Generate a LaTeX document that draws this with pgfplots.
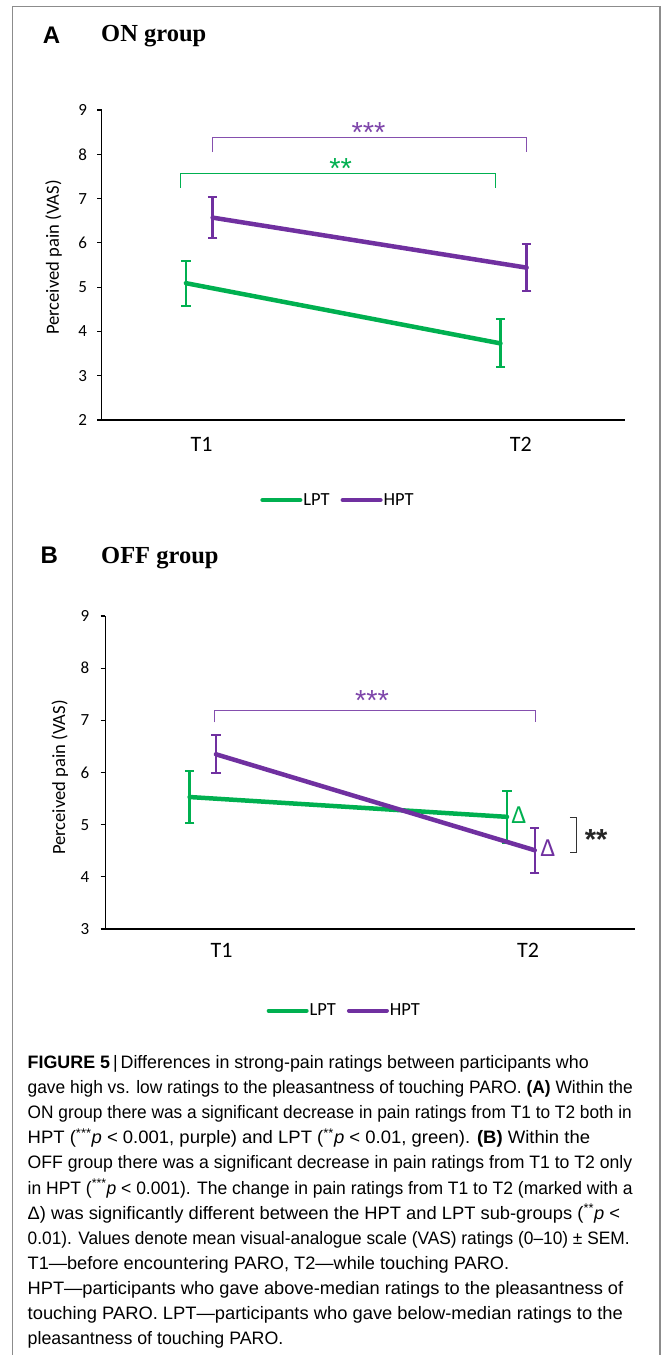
\documentclass[border=0pt]{standalone}
\usepackage{fontspec}
\setmainfont{Liberation Sans}
\newfontfamily\calibri{Carlito}
\newfontfamily\serifbf{Liberation Serif}
\usepackage{graphicx}
\usepackage{pgfplots}
\pgfplotsset{compat=1.18}
\definecolor{lgreen}{HTML}{00B050}
\definecolor{lpurple}{HTML}{7030A0}
\definecolor{framegray}{HTML}{8C8C8C}

\newsavebox\capbox
\newcommand\capline[3]{%
  \node[anchor=base west, inner sep=0pt, outer sep=0pt] at (27.7bp,-#1bp) {%
    \sbox\capbox{\fontsize{18bp}{18bp}\selectfont #3}%
    \pgfmathsetmacro\capsf{#2*1.00375/\the\wd\capbox}%
    \scalebox{\capsf}[1]{\usebox\capbox}};}
\newcommand\stars[1]{\fontsize{29bp}{29bp}\selectfont #1}

\pgfplotsset{
  vasaxis/.style={
    scale only axis, anchor=south west, clip=false,
    xmin=0, xmax=10,
    axis x line=bottom, axis y line=left,
    axis line style={-, line width=1.4bp, black},
    tick align=outside, major tick length=4.5bp,
    xtick style={draw=none},
    ytick style={line width=1.2bp, black},
    /pgf/number format/assume math mode=true,
    yticklabel style={font=\calibri\fontsize{17bp}{17bp}\selectfont, anchor=east, inner sep=0pt},
    xticklabel style={font=\calibri\fontsize{22bp}{22bp}\selectfont, anchor=north, inner sep=0pt},
    ylabel style={font=\calibri\fontsize{18.6bp}{18.6bp}\selectfont, anchor=center},
    legend style={draw=none, fill=none, legend columns=2, anchor=center,
      font=\calibri\fontsize{18.5bp}{18.5bp}\selectfont,
      nodes={inner sep=1bp},
      /tikz/every even column/.append style={column sep=10bp}},
    legend image code/.code={\draw[#1] (0bp,0bp) -- (38bp,0bp);},
  },
  lpt/.style={lgreen, line width=4.5bp, line cap=round, mark=none, forget plot,
    error bars/.cd, y dir=both, y explicit,
    error bar style={line width=2.4bp, line cap=butt},
    error mark options={rotate=90, line width=2bp, mark size=4.7bp, lgreen}},
  hpt/.style={lpurple, line width=4.5bp, line cap=round, mark=none, forget plot,
    error bars/.cd, y dir=both, y explicit,
    error bar style={line width=2.4bp, line cap=butt},
    error mark options={rotate=90, line width=2bp, mark size=4.7bp, lpurple}},
}

\begin{document}
\begin{tikzpicture}
\useasboundingbox (0,0) rectangle (665bp,-1355bp);
\fill[white] (0,0) rectangle (665bp,-1355bp);
\draw[framegray, line width=1.5bp] (12.7bp,-1356bp) -- (12.7bp,-6.7bp) -- (660bp,-6.7bp) -- (660bp,-1356bp);

% Panel titles
\node[anchor=base west, inner sep=0pt, font=\fontsize{24bp}{24bp}\selectfont\bfseries] at (42.6bp,-43.3bp) {A};
\node[anchor=base west, inner sep=0pt, font=\serifbf\fontsize{24.5bp}{24.5bp}\selectfont\bfseries] at (101bp,-41bp) {ON group};
\node[anchor=base west, inner sep=0pt, font=\fontsize{24bp}{24bp}\selectfont\bfseries] at (40.5bp,-563.3bp) {B};
\node[anchor=base west, inner sep=0pt, font=\serifbf\fontsize{24.5bp}{24.5bp}\selectfont\bfseries] at (101bp,-563.3bp) {OFF group};

% ---------------- Panel A ----------------
\begin{axis}[vasaxis, at={(101.7bp,-420bp)}, width=523.3bp, height=310bp,
  ymin=2, ymax=9, ytick={2,3,4,5,6,7,8,9},
  yticklabel style={xshift=-9.9bp},
  xtick={1.91,8.01}, xticklabels={T1,T2}, xticklabel style={yshift=-12.2bp},
  ylabel={Perceived pain (VAS)},
  ylabel style={at={(axis description cs:-0.092,0.524)}},
  legend style={at={(axis description cs:0.4506,-0.258)}}]
\addplot[lpt] coordinates {(1.61,5.09) +- (0,0.51) (7.62,3.73) +- (0,0.54)};
\addplot[hpt] coordinates {(2.12,6.57) +- (0,0.46) (8.12,5.44) +- (0,0.535)};
\addlegendimage{lgreen, line width=4bp, line cap=round}
\addlegendentry{LPT}
\addlegendimage{lpurple, line width=4bp, line cap=round}
\addlegendentry{HPT}
% significance brackets
\draw[lpurple!85, line width=1bp] (axis cs:2.12,8.05) -- (axis cs:2.12,8.374) -- (axis cs:8.12,8.374) -- (axis cs:8.12,8.05);
\node[lpurple!90, anchor=center, inner sep=0pt] at (axis cs:5.10,8.50) {\stars{***}};
\draw[lgreen, line width=1bp] (axis cs:1.51,7.245) -- (axis cs:1.51,7.57) -- (axis cs:7.52,7.57) -- (axis cs:7.52,7.245);
\node[lgreen, anchor=center, inner sep=0pt] at (axis cs:4.567,7.68) {\stars{**}};
\end{axis}

% ---------------- Panel B ----------------
\begin{axis}[vasaxis, at={(105.2bp,-929bp)}, width=529.8bp, height=313bp,
  ymin=3, ymax=9, ytick={3,4,5,6,7,8,9},
  yticklabel style={xshift=-11.2bp},
  xtick={2.197,7.98}, xticklabels={T1,T2}, xticklabel style={yshift=-9.8bp},
  ylabel={Perceived pain (VAS)},
  ylabel style={at={(axis description cs:-0.0855,0.484)}},
  legend style={at={(axis description cs:0.4504,-0.261)}}]
\addplot[lpt] coordinates {(1.593,5.53) +- (0,0.5) (7.584,5.15) +- (0,0.5)};
\addplot[hpt] coordinates {(2.09,6.35) +- (0,0.36) (8.107,4.51) +- (0,0.43)};
\addlegendimage{lgreen, line width=4bp, line cap=round}
\addlegendentry{LPT}
\addlegendimage{lpurple, line width=4bp, line cap=round}
\addlegendentry{HPT}
\draw[lpurple!85, line width=1bp] (axis cs:2.054,6.962) -- (axis cs:2.054,7.198) -- (axis cs:8.124,7.198) -- (axis cs:8.124,6.962);
\node[lpurple!90, anchor=center, inner sep=0pt] at (axis cs:5.036,7.38) {\stars{***}};
\node[lgreen, anchor=center, inner sep=0pt, font=\calibri\fontsize{26bp}{26bp}\selectfont] at (axis cs:7.81,5.185) {Δ};
\node[lpurple, anchor=center, inner sep=0pt, font=\calibri\fontsize{26bp}{26bp}\selectfont] at (axis cs:8.358,4.553) {Δ};
\draw[black!80, line width=1bp] (axis cs:8.77,5.147) -- (axis cs:8.90,5.147) -- (axis cs:8.90,4.47) -- (axis cs:8.77,4.47);
\node[black!85, anchor=center, inner sep=0pt] at (axis cs:9.267,4.72) {\bfseries\stars{**}};
\end{axis}

% ---------------- Caption ----------------
\capline{1068.3}{561.1}{\textbf{FIGURE 5}\,|\,Differences in strong-pain ratings between participants who}
\capline{1093.45}{605}{gave high vs. low ratings to the pleasantness of touching PARO. \textbf{(A)} Within the}
\capline{1118.6}{604.2}{ON group there was a significant decrease in pain ratings from T1 to T2 both in}
\capline{1143.75}{562.4}{HPT (\textsuperscript{***}\textit{p} < 0.001, purple) and LPT (\textsuperscript{**}\textit{p} < 0.01, green). \textbf{(B)} Within the}
\capline{1168.9}{604.6}{OFF group there was a significant decrease in pain ratings from T1 to T2 only}
\capline{1194.05}{605}{in HPT (\textsuperscript{***}\textit{p} < 0.001). The change in pain ratings from T1 to T2 (marked with a}
\capline{1219.2}{592.3}{Δ) was significantly different between the HPT and LPT sub-groups (\textsuperscript{**}\textit{p} <}
\capline{1244.35}{602}{0.01). Values denote mean visual-analogue scale (VAS) ratings (0–10) ± SEM.}
\capline{1269.5}{481.5}{T1—before encountering PARO, T2—while touching PARO.}
\capline{1294.65}{595.6}{HPT—participants who gave above-median ratings to the pleasantness of}
\capline{1319.8}{595.2}{touching PARO. LPT—participants who gave below-median ratings to the}
\capline{1344.95}{255.6}{pleasantness of touching PARO.}
\end{tikzpicture}
\end{document}
